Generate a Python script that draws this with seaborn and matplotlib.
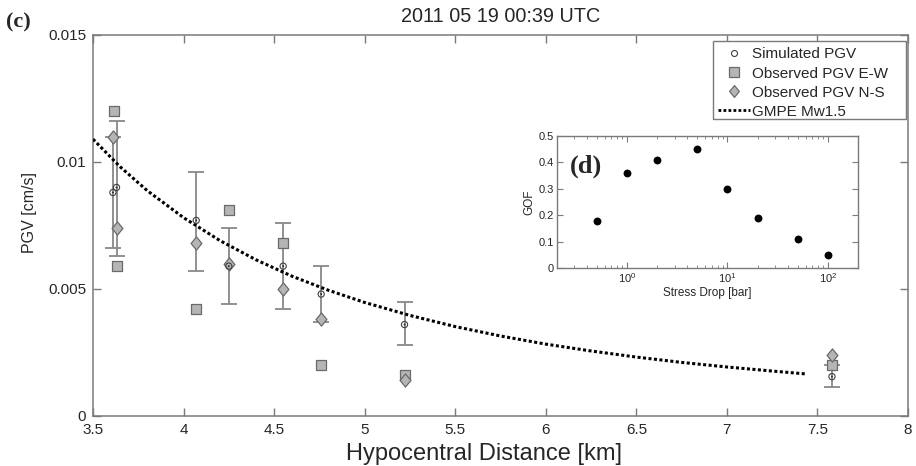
import numpy as np
import pandas as pd
import matplotlib
matplotlib.use("Agg")
import matplotlib.pyplot as plt
from matplotlib.lines import Line2D
from matplotlib.path import Path
from matplotlib.patches import Rectangle
import seaborn as sns

# ---- data ----
sim_x = [3.61, 3.63, 4.07, 4.25, 4.55, 4.76, 5.22, 7.58]
sim_y = [0.0088, 0.0090, 0.0077, 0.0059, 0.0059, 0.0048, 0.0036, 0.00155]
sim_lo = [0.0066, 0.0063, 0.0057, 0.0044, 0.0042, 0.0037, 0.0028, 0.00115]
sim_hi = [0.0110, 0.0116, 0.0096, 0.0074, 0.0076, 0.0059, 0.0045, 0.0020]

ew_x = [3.615, 3.632, 4.07, 4.25, 4.55, 4.76, 5.22, 7.58]
ew_y = [0.0120, 0.0059, 0.0042, 0.0081, 0.0068, 0.0020, 0.0016, 0.0020]

ns_x = [3.61, 3.633, 4.07, 4.25, 4.55, 4.76, 5.22, 7.58]
ns_y = [0.0110, 0.0074, 0.0068, 0.0060, 0.0050, 0.0038, 0.0014, 0.0024]

gmpe_x = [3.5, 3.65, 3.8, 4.0, 4.2, 4.4, 4.6, 4.8, 5.0, 5.25, 5.5, 5.75,
          6.0, 6.25, 6.5, 6.75, 7.0, 7.25, 7.43]
gmpe_y = [0.01090, 0.00981, 0.00887, 0.00781, 0.00691, 0.00615, 0.00550,
          0.00495, 0.00447, 0.00396, 0.00352, 0.00315, 0.00283, 0.00256,
          0.00232, 0.00211, 0.00193, 0.00177, 0.00166]

sd_x = [0.5, 1, 2, 5, 10, 20, 50, 100]
gof_y = [0.18, 0.36, 0.41, 0.45, 0.30, 0.19, 0.11, 0.05]

title = "2011 05 19 00:39 UTC"

# ---- style ----
sns.set_theme(style="ticks")
plt.rcParams["font.family"] = ["Liberation Sans", "DejaVu Sans"]
plt.rcParams["xtick.direction"] = "in"
plt.rcParams["ytick.direction"] = "in"

spine_c = "#7a7a7a"
fill_c = "#b5b5b5"
edge_c = "#6a6a6a"
diamond = Path([(-0.82, 0), (0, 1), (0.82, 0), (0, -1), (-0.82, 0)],
               [Path.MOVETO, Path.LINETO, Path.LINETO, Path.LINETO, Path.CLOSEPOLY])
dotted = (0, (1, 0.8))

fig = plt.figure(figsize=(9.16, 4.66), dpi=100)
ax = fig.add_axes([0.1015, 0.1073, 0.8898, 0.8176])

sim_y_a = np.array(sim_y)
yerr = [sim_y_a - np.array(sim_lo), np.array(sim_hi) - sim_y_a]
ax.errorbar(sim_x, sim_y, yerr=yerr, fmt="none", ecolor="#888888",
            elinewidth=1.3, capsize=6, capthick=1.3, zorder=2)

gdf = pd.DataFrame({"x": gmpe_x, "y": gmpe_y})
sns.lineplot(data=gdf, x="x", y="y", ax=ax, color="black", linewidth=2.2,
             linestyle=dotted, zorder=3, sort=False)

ewdf = pd.DataFrame({"x": ew_x, "y": ew_y})
sns.scatterplot(data=ewdf, x="x", y="y", ax=ax, marker="s", s=42,
                color=fill_c, edgecolor=edge_c, linewidth=0.9, zorder=4)

nsdf = pd.DataFrame({"x": ns_x, "y": ns_y})
sns.scatterplot(data=nsdf, x="x", y="y", ax=ax, marker=diamond, s=90,
                color=fill_c, edgecolor=edge_c, linewidth=0.9, zorder=5)

simdf = pd.DataFrame({"x": sim_x, "y": sim_y})
sns.scatterplot(data=simdf, x="x", y="y", ax=ax, marker="o", s=20,
                facecolor="none", edgecolor="#404040", linewidth=0.8, zorder=6)
sns.scatterplot(data=simdf, x="x", y="y", ax=ax, marker="o", s=2,
                color="#303030", edgecolor="none", zorder=7)

ax.set_xlim(3.5, 8)
ax.set_ylim(0, 0.015)
ax.set_xticks([3.5, 4, 4.5, 5, 5.5, 6, 6.5, 7, 7.5, 8])
ax.set_xticklabels(["3.5", "4", "4.5", "5", "5.5", "6", "6.5", "7", "7.5", "8"])
ax.set_yticks([0, 0.005, 0.01, 0.015])
ax.set_yticklabels(["0", "0.005", "0.01", "0.015"])
ax.tick_params(axis="both", which="major", labelsize=11, length=6, width=1,
               color=spine_c, top=True, right=True, direction="in", pad=5)
for sp in ax.spines.values():
    sp.set_color(spine_c)
    sp.set_linewidth(1.1)
ax.set_xlabel("Hypocentral Distance [km]", fontsize=17)
ax.xaxis.set_label_coords(0.48, -0.072)
ax.set_ylabel("PGV [cm/s]", fontsize=11.5)
ax.yaxis.set_label_coords(-0.0687, 0.533)
ax.set_title(title, fontsize=14.3, pad=9)

handles = [
    Line2D([], [], marker="o", linestyle="none", markersize=4.3,
           markerfacecolor="none", markeredgecolor="#404040", markeredgewidth=0.8),
    Line2D([], [], marker="s", linestyle="none", markersize=6.5,
           markerfacecolor=fill_c, markeredgecolor=edge_c, markeredgewidth=0.9),
    Line2D([], [], marker=diamond, linestyle="none", markersize=8.5,
           markerfacecolor=fill_c, markeredgecolor=edge_c, markeredgewidth=0.9),
    Line2D([], [], color="black", linewidth=2.0, linestyle=dotted),
]
labels = ["Simulated PGV", "Observed PGV E-W", "Observed PGV N-S", "GMPE Mw1.5"]
leg_box = (0.7607, 0.7795, 0.9975 - 0.7607, 0.9843 - 0.7795)
ax.add_patch(Rectangle((leg_box[0], leg_box[1]), leg_box[2], leg_box[3],
                       transform=ax.transAxes, facecolor="white",
                       edgecolor=spine_c, linewidth=1.0, zorder=9))
leg = ax.legend(handles, labels, loc="upper left", fontsize=11, frameon=False,
                bbox_to_anchor=(leg_box[0], leg_box[1] + leg_box[3] - 0.005),
                borderaxespad=0, handlelength=2.15, handletextpad=0.13,
                labelspacing=0.33, borderpad=0.3)
leg.set_zorder(10)

fig.text(0.007, 0.94, "(c)", fontsize=16, fontweight="bold",
         family=["Liberation Serif", "DejaVu Serif"], ha="left", va="baseline")

# ---- inset (d) ----
axi = fig.add_axes([0.6077, 0.4242, 0.3293, 0.2846])
gdf2 = pd.DataFrame({"sd": sd_x, "gof": gof_y})
sns.scatterplot(data=gdf2, x="sd", y="gof", ax=axi, color="black", s=32,
                edgecolor="black", linewidth=0, zorder=3)
axi.set_xscale("log")
axi.set_xlim(0.2, 200)
axi.set_ylim(0, 0.5)
axi.set_yticks([0, 0.1, 0.2, 0.3, 0.4, 0.5])
axi.set_yticklabels(["0", "0.1", "0.2", "0.3", "0.4", "0.5"])
axi.tick_params(axis="both", which="major", labelsize=8, length=4, width=0.8,
                color=spine_c, top=True, right=True, direction="in", pad=2)
axi.tick_params(axis="both", which="minor", length=2, width=0.6, color=spine_c,
                top=True, right=True, direction="in")
for sp in axi.spines.values():
    sp.set_color(spine_c)
    sp.set_linewidth(1.0)
axi.set_xlabel("Stress Drop [bar]", fontsize=8.5, labelpad=1.5)
axi.set_ylabel("GOF", fontsize=8.5, labelpad=2)
axi.text(0.045, 0.86, "(d)", transform=axi.transAxes, fontsize=19,
         fontweight="bold", family=["Liberation Serif", "DejaVu Serif"],
         ha="left", va="top")

fig.savefig("out.png", dpi=100)
